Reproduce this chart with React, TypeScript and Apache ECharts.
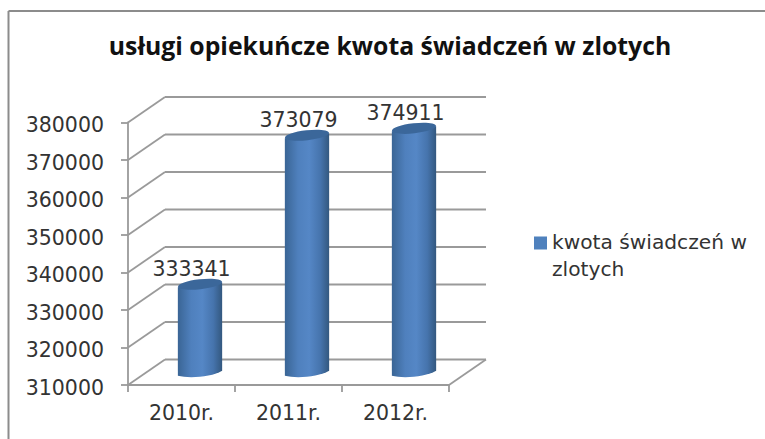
import React, { useEffect, useRef } from "react";
import * as echarts from "echarts";

const titleText = "usługi opiekuńcze kwota świadczeń w zlotych";
const seriesName = "kwota świadczeń w\nzlotych";
const categories = ["2010r.", "2011r.", "2012r."];
const values = [333341, 373079, 374911];
const tickValues = [310000, 320000, 330000, 340000, 350000, 360000, 370000, 380000];
const gridColor = "#9a9a9a";
const borderColor = "#8c8c8c";
const textColor = "#333333";
const DEPTH_X = 37;
const DEPTH_Y = -25.5;

export default function App() {
  const ref = useRef<HTMLDivElement>(null);
  useEffect(() => {
    const chart = echarts.init(ref.current!, undefined, { renderer: "svg" });
    const wallLines = (params: any, api: any) => {
      const v = api.value(0);
      const y = api.coord([0, v])[1];
      const cs = params.coordSys;
      const left = cs.x;
      const right = cs.x + cs.width;
      const stroke = { stroke: gridColor, lineWidth: 1.8 };
      const children: any[] = [
        { type: "line", shape: { x1: left, y1: y, x2: left + DEPTH_X, y2: y + DEPTH_Y }, style: stroke },
        { type: "line", shape: { x1: left + DEPTH_X, y1: y + DEPTH_Y, x2: right + DEPTH_X, y2: y + DEPTH_Y }, style: stroke },
      ];
      if (v === tickValues[0]) {
        children.push({ type: "line", shape: { x1: right, y1: y, x2: right + DEPTH_X, y2: y + DEPTH_Y }, style: stroke });
      }
      return { type: "group", children };
    };
    const cylinder = (params: any, api: any) => {
      const i = api.value(0);
      const v = api.value(1);
      const top = api.coord([i, v]);
      const base = api.coord([i, tickValues[0]]);
      const halfW = api.size([1, 0])[0] * 0.207;
      const cx = top[0] + DEPTH_X / 2;
      const ty = top[1] + DEPTH_Y / 2;
      const by = base[1] + DEPTH_Y / 2;
      const ry = 5;
      const tilt = 2.5;
      const l = cx - halfW, r = cx + halfW;
      const d = `M${l} ${ty + tilt}L${r} ${ty - tilt}L${r} ${by - tilt}C${r - 10} ${by + 3.5} ${l + 12} ${by + 5.5} ${l} ${by + tilt}Z`;
      const fill = new echarts.graphic.LinearGradient(0, 0, 1, 0, [
        { offset: 0, color: "#3a6595" },
        { offset: 0.3, color: "#4f80bd" },
        { offset: 0.55, color: "#5587c6" },
        { offset: 0.8, color: "#4674ad" },
        { offset: 1, color: "#33587f" },
      ]);
      return {
        type: "group",
        children: [
          { type: "path", shape: { pathData: d, x: l, y: ty - tilt, width: r - l, height: by - ty + 2 * tilt + 2.5, layout: "cover" }, style: { fill } },
          { type: "ellipse", shape: { cx: 0, cy: 0, rx: halfW, ry }, x: cx, y: ty - 0.5, rotation: Math.atan2(2 * tilt, 2 * halfW), style: { fill: "#3b679a" } },
          {
            type: "text", x: cx - 8.5, y: ty - 16,
            style: { text: String(v), fill: textColor, font: "20.5px 'DejaVu Sans'", align: "center", verticalAlign: "middle" },
          },
        ],
      };
    };
    chart.setOption({
      animation: false,
      backgroundColor: "#ffffff",
      title: {
        text: titleText, left: 385, top: 40, textAlign: "center", textVerticalAlign: "middle",
        textStyle: { fontFamily: "'Open Sans'", fontWeight: "bold", fontSize: 24.8, color: "#111111" },
      },
      graphic: [
        { type: "line", shape: { x1: 8.5, y1: 11, x2: 765, y2: 11 }, style: { stroke: borderColor, lineWidth: 2 } },
        { type: "line", shape: { x1: 8.5, y1: 11, x2: 8.5, y2: 439 }, style: { stroke: borderColor, lineWidth: 2 } },
      ],
      legend: {
        left: 529, top: 223, icon: "path://M0 0H13V13H0ZM0 37H0.01Z", itemWidth: 13, itemHeight: 37, itemGap: 7,
        data: [{ name: seriesName, itemStyle: { color: "#4f81bd" } }],
        textStyle: { fontFamily: "'DejaVu Sans'", fontSize: 20.2, color: textColor, lineHeight: 27 },
      },
      grid: { left: 128, top: 122.5, width: 321, height: 262.5 },
      xAxis: {
        type: "category", data: categories, boundaryGap: true,
        axisLine: { lineStyle: { color: gridColor, width: 1.8 } },
        axisTick: { show: true, length: 7, alignWithLabel: false, lineStyle: { color: gridColor, width: 1.8 } },
        axisLabel: { fontFamily: "'DejaVu Sans'", fontSize: 20.5, color: textColor, margin: 17 },
      },
      yAxis: {
        type: "value", min: tickValues[0], max: tickValues[tickValues.length - 1], interval: 10000,
        axisLine: { show: true, lineStyle: { color: gridColor, width: 1.8 } },
        axisTick: { show: true, length: 7, lineStyle: { color: gridColor, width: 1.8 } },
        axisLabel: { fontFamily: "'DejaVu Sans'", fontSize: 20.5, color: textColor, margin: 24, verticalAlign: "top", lineHeight: 5, formatter: (v: number) => String(v) },
        splitLine: { show: false },
      },
      series: [
        { type: "custom", name: "walls", silent: true, renderItem: wallLines, data: tickValues.map((v) => [v]), encode: { x: [], y: 0 }, clip: false, z: 1 },
        { type: "custom", name: seriesName, silent: true, renderItem: cylinder, data: values.map((v, i) => [i, v]), encode: { x: 0, y: 1 }, clip: false, z: 2 },
      ],
    });
    return () => chart.dispose();
  }, []);
  return <div ref={ref} style={{ position: "fixed", left: 0, top: 0, width: 765, height: 439 }} />;
}
